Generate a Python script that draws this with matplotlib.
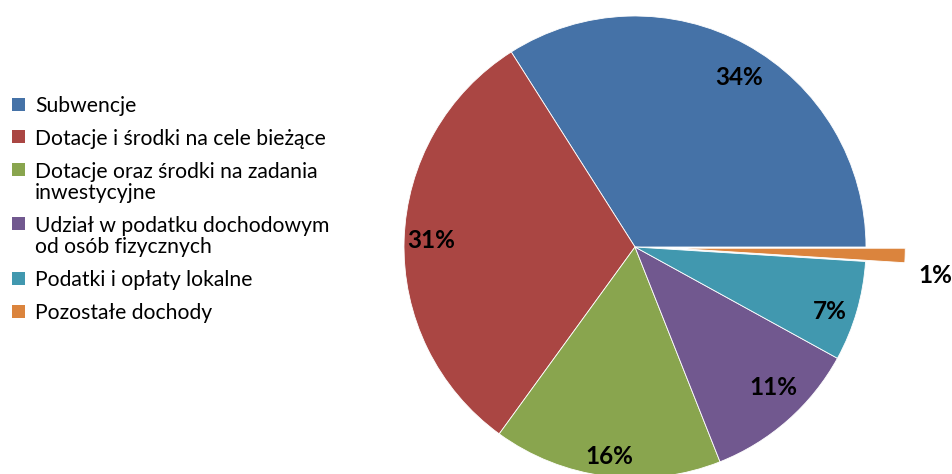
import numpy as np
import matplotlib.pyplot as plt
from matplotlib.patches import Rectangle

plt.rcParams['font.family'] = ['Lato', 'DejaVu Sans']

labels = [
    "Subwencje",
    "Dotacje i środki na cele bieżące",
    "Dotacje oraz środki na zadania\ninwestycyjne",
    "Udział w podatku dochodowym\nod osób fizycznych",
    "Podatki i opłaty lokalne",
    "Pozostałe dochody",
]
shares = [34, 31, 16, 11, 7, 1]
colors = ["#4572A7", "#AA4643", "#89A54E", "#71588F", "#4198AF", "#DB843D"]

W, H = 952, 474
fig = plt.figure(figsize=(W / 100, H / 100), dpi=100)
ax = fig.add_axes([0, 0, 1, 1])

cx, cy, rad = 635, H - 247, 231
explode = [0, 0, 0, 0, 0, 0.17 * rad]   # pie explode is in data units
wedges, texts, autotexts = ax.pie(
    shares, colors=colors, explode=explode, center=(cx, cy), radius=rad,
    startangle=0, counterclock=True,
    autopct=lambda p: f"{p:.0f}%", pctdistance=0.86,
    wedgeprops=dict(edgecolor="white", linewidth=0.6),
    textprops=dict(fontsize=17.5, fontweight="bold", color="black"),
)

# the small exploded slice carries its label outside the pie
w = wedges[-1]
mid = np.deg2rad((w.theta1 + w.theta2) / 2)
autotexts[-1].set_position((cx + 1.295 * rad * np.cos(mid), cy + 1.295 * rad * np.sin(mid)))

# small "best fit" nudges of the labels (pixels)
nudges = [(8, -5), (-5, 0), (-1, -12), (7, 9), (4, -9), (1, -19)]
for t, (dx, dy) in zip(autotexts, nudges):
    x, y = t.get_position()
    t.set_position((x + dx, y + dy))

ax.set_xlim(0, W)
ax.set_ylim(0, H)
ax.set_aspect("auto")
ax.axis("off")

# legend drawn by hand so the marker sits on the first line of each entry
line_h, gap, y = 21.5, 11.3, 104
for lab, col in zip(labels, colors):
    ax.add_patch(Rectangle((12, H - y - 6.5), 13, 13, facecolor=col, edgecolor="none"))
    for line in lab.split("\n"):
        ax.text(35, H - y, line, fontsize=15.2, va="center_baseline", ha="left")
        y += line_h
    y += gap

plt.savefig("out.png", dpi=100)
